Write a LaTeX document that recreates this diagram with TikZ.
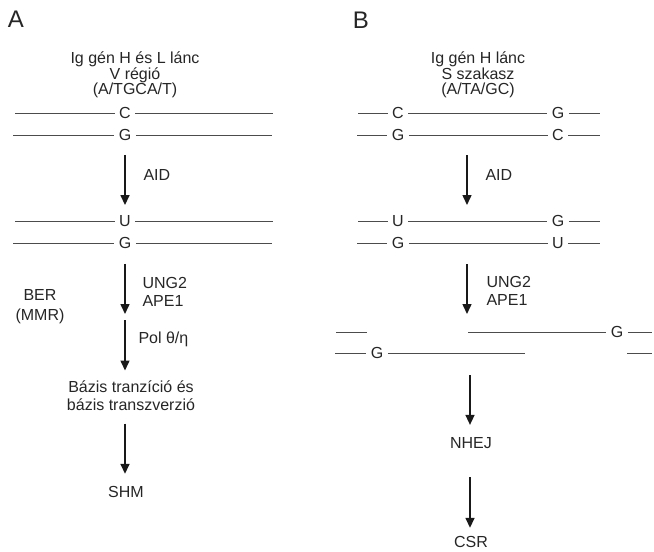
\documentclass[tikz,border=0pt]{standalone}
\usepackage{fontspec}
\setmainfont{Liberation Sans}
\usetikzlibrary{arrows.meta,positioning}
\begin{document}
\begin{tikzpicture}[x=1pt,y=-1pt,>={Triangle[length=10pt,width=9pt]}, every node/.style={font=\fontsize{16}{18}\selectfont,text=black!85}, base/.style={inner xsep=4.5pt,inner ysep=3pt,text height=11.5pt,text depth=0pt}, strand/.style={draw=black!70,line width=0.9pt}, flow/.style={->,draw=black!90,line width=1.5pt}, title/.style={align=center,font=\fontsize{16}{15.5}\selectfont}, panel/.style={font=\fontsize{24}{26}\selectfont}, lbl/.style={anchor=west,align=left}]
\useasboundingbox (0,0) rectangle (654,552);
\node[panel] (pA) at (16,19) {A};
\node[title] (tA) at (135,75) {Ig gén H és L lánc\\V régió\\(A/TGCA/T)};
\coordinate (a1l) at (15,113); \node[base] (aC) at (125,113) {C}; \coordinate (a1r) at (273,113);
\coordinate (a2l) at (13,135); \node[base] (aG) at (125,135) {G}; \coordinate (a2r) at (272,135);
\draw[strand] (a1l) -- (aC) -- (a1r); \draw[strand] (a2l) -- (aG) -- (a2r);
\coordinate (a3l) at (15,221); \node[base] (aU) at (125,221) {U}; \coordinate (a3r) at (273,221);
\coordinate (a4l) at (13,243); \node[base] (aG2) at (125,243) {G}; \coordinate (a4r) at (272,243);
\draw[strand] (a3l) -- (aU) -- (a3r); \draw[strand] (a4l) -- (aG2) -- (a4r);
\coordinate (aBr) at (125,317);
\node[align=center] (trans) at (131,396) {Bázis tranzíció és\\bázis transzverzió};
\node (shm) at (126,492) {SHM};
\draw[flow,shorten <=11pt,shorten >=7pt] (aG) -- (aU);
\draw[flow,shorten <=12pt,shorten >=3pt] (aG2) -- (aBr);
\draw[flow,shorten <=3pt,shorten >=7pt] (aBr) -- (aBr |- trans.north);
\draw[flow,shorten <=9pt,shorten >=9pt] (aBr |- trans.south) -- (aBr |- shm.north);
\node[lbl] (lAID) at (140,175) {AID};
\node[lbl] (lUNG) at (139,291.5) {UNG2\\APE1};
\node[lbl] (lPol) at (135,339) {Pol θ/η};
\node[align=center,font=\fontsize{16}{20}\selectfont] (ber) at (40,307) {BER\\(MMR)};
\node[panel] (pB) at (361,20) {B};
\node[title] (tB) at (478,75) {Ig gén H lánc\\S szakasz\\(A/TA/GC)};
\coordinate (b1l) at (358,113); \node[base] (bC1) at (398,113) {C}; \node[base] (bG1) at (558,113) {G}; \coordinate (b1r) at (600,113);
\coordinate (b2l) at (357,135); \node[base] (bG2) at (398,135) {G}; \node[base] (bC2) at (558,135) {C}; \coordinate (b2r) at (600,135);
\draw[strand] (b1l) -- (bC1) -- (bG1) -- (b1r); \draw[strand] (b2l) -- (bG2) -- (bC2) -- (b2r);
\coordinate (b3l) at (358,221); \node[base] (bU3) at (398,221) {U}; \node[base] (bG3) at (558,221) {G}; \coordinate (b3r) at (600,221);
\coordinate (b4l) at (357,243); \node[base] (bG4) at (398,243) {G}; \node[base] (bU4) at (558,243) {U}; \coordinate (b4r) at (600,243);
\draw[strand] (b3l) -- (bU3) -- (bG3) -- (b3r); \draw[strand] (b4l) -- (bG4) -- (bU4) -- (b4r);
\coordinate (b5a) at (336,332); \coordinate (b5b) at (367,332); \coordinate (b5c) at (468,332); \node[base] (bG5) at (617,332) {G}; \coordinate (b5d) at (652,332);
\coordinate (b6a) at (335,353); \node[base] (bG6) at (377,353) {G}; \coordinate (b6b) at (525,353); \coordinate (b6c) at (627,353); \coordinate (b6d) at (652,353);
\draw[strand] (b5a) -- (b5b); \draw[strand] (b5c) -- (bG5) -- (b5d);
\draw[strand] (b6a) -- (bG6) -- (b6b); \draw[strand] (b6c) -- (b6d);
\coordinate (bm2) at (467,135); \coordinate (bm3) at (467,221);
\coordinate (bm4) at (467,243); \coordinate (bm5) at (467,332);
\coordinate (bm6) at (470,353);
\node (nhej) at (471,443) {NHEJ};
\node (csr) at (471,542) {CSR};
\draw[flow,shorten <=20pt,shorten >=16pt] (bm2) -- (bm3);
\draw[flow,shorten <=21pt,shorten >=18pt] (bm4) -- (bm5);
\draw[flow,shorten <=22pt,shorten >=9pt] (bm6) -- (bm6 |- nhej.north);
\draw[flow,shorten <=25pt,shorten >=5pt] (bm6 |- nhej.south) -- (bm6 |- csr.north);
\node[lbl] (lAIDb) at (482,175) {AID};
\node[lbl] (lUNGb) at (483,291) {UNG2\\APE1};
\end{tikzpicture}
\end{document}
